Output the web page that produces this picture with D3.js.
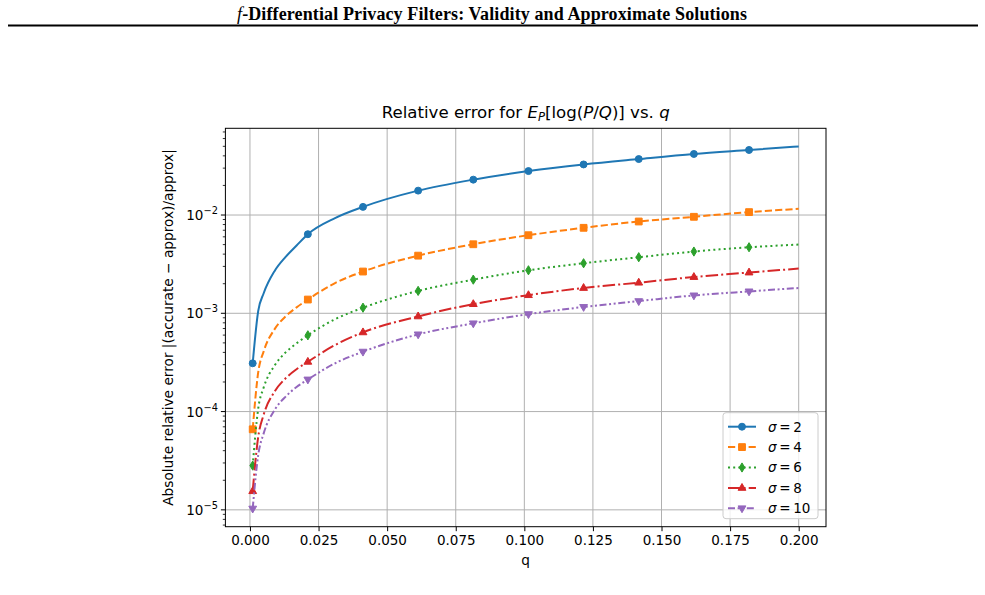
<!DOCTYPE html>
<html>
<head>
<meta charset="utf-8">
<script src="https://cdn.jsdelivr.net/npm/d3@7"></script>
<style>
  body { margin: 0; background: #fff; }
  svg { display: block; }
  .mpl { font-family: "DejaVu Sans", sans-serif; }
</style>
</head>
<body>
<svg id="chart" width="985" height="595"></svg>
<script>
// q samples, markers every 10th point of the original linspace
let qValues = [0.001, 0.003, 0.005, 0.009, 0.013, 0.017, 0.0211, 0.031, 0.0412, 0.0613, 0.0814, 0.1015, 0.1216, 0.1417, 0.1618, 0.1819, 0.2]
let markerIdx = [0, 6, 8, 9, 10, 11, 12, 13, 14, 15]

let sigma2  = [3.1e-4, 1.05e-3, 1.6e-3, 2.7e-3, 3.75e-3, 4.9e-3, 6.38e-3, 9.3e-3, 1.21e-2, 1.77e-2, 2.29e-2, 2.8e-2, 3.27e-2, 3.71e-2, 4.18e-2, 4.59e-2, 4.99e-2]
let sigma4  = [6.6e-5, 2.5e-4, 4.1e-4, 6.9e-4, 9.3e-4, 1.15e-3, 1.38e-3, 2.03e-3, 2.66e-3, 3.86e-3, 5.04e-3, 6.23e-3, 7.41e-3, 8.59e-3, 9.59e-3, 1.07e-2, 1.156e-2]
let sigma6  = [2.82e-5, 1.07e-4, 1.76e-4, 2.95e-4, 4.0e-4, 4.95e-4, 5.97e-4, 8.7e-4, 1.14e-3, 1.69e-3, 2.2e-3, 2.74e-3, 3.23e-3, 3.72e-3, 4.25e-3, 4.7e-3, 5.0e-3]
let sigma8  = [1.55e-5, 5.5e-5, 9.3e-5, 1.6e-4, 2.18e-4, 2.7e-4, 3.21e-4, 4.75e-4, 6.4e-4, 9.3e-4, 1.24e-3, 1.53e-3, 1.81e-3, 2.05e-3, 2.34e-3, 2.6e-3, 2.85e-3]
let sigma10 = [1.03e-5, 3.6e-5, 6.0e-5, 1.04e-4, 1.42e-4, 1.78e-4, 2.12e-4, 3.1e-4, 4.07e-4, 6.1e-4, 7.9e-4, 9.8e-4, 1.16e-3, 1.33e-3, 1.52e-3, 1.67e-3, 1.81e-3]

let sigmaLabels = ["2", "4", "6", "8", "10"]
let xTicks = [0, 0.025, 0.05, 0.075, 0.1, 0.125, 0.15, 0.175, 0.2]
let yTickExps = [-5, -4, -3, -2]

let series = [
    {label: sigmaLabels[0], values: sigma2,  color: "#1f77b4", dash: null,                     marker: "circle"},
    {label: sigmaLabels[1], values: sigma4,  color: "#ff7f0e", dash: "7.2,3.1",                marker: "square"},
    {label: sigmaLabels[2], values: sigma6,  color: "#2ca02c", dash: "2,3.2",                  marker: "thin_diamond"},
    {label: sigmaLabels[3], values: sigma8,  color: "#d62728", dash: "12.5,3.1,2,3.1",         marker: "tri_up"},
    {label: sigmaLabels[4], values: sigma10, color: "#9467bd", dash: "7,2.6,2,2.6,2,2.6",      marker: "tri_down"},
]

let axLeft = 225.4, axRight = 826, axTop = 128.3, axBottom = 526.7
let svg = d3.select("#chart")

// page header (paper running title)
let header = svg.append("text")
    .attr("x", 492).attr("y", 19.5)
    .attr("text-anchor", "middle")
    .attr("font-family", "Liberation Serif, serif")
    .attr("font-weight", "bold")
    .attr("font-size", 18)
    .attr("textLength", 510)
header.append("tspan").attr("font-style", "italic").attr("font-weight", "normal").text("f")
header.append("tspan").text("-Differential Privacy Filters: Validity and Approximate Solutions")
svg.append("line")
    .attr("x1", 8).attr("x2", 978).attr("y1", 25.5).attr("y2", 25.5)
    .attr("stroke", "#000").attr("stroke-width", 2)

// scales, with matplotlib-like 5% margins
let xExt = d3.extent(qValues), xPad = (xExt[1] - xExt[0]) * 0.05
let allVals = series.flatMap(s => s.values)
let lo = Math.log10(d3.min(allVals)), hi = Math.log10(d3.max(allVals)), lPad = (hi - lo) * 0.05
let x = d3.scaleLinear([xExt[0] - xPad, xExt[1] + xPad], [axLeft, axRight])
let y = d3.scaleLog([Math.pow(10, lo - lPad), Math.pow(10, hi + lPad)], [axBottom, axTop])

let g = svg.append("g").attr("class", "mpl")

// grid
g.append("g").selectAll("line").data(xTicks).join("line")
    .attr("x1", d => x(d)).attr("x2", d => x(d))
    .attr("y1", axTop).attr("y2", axBottom)
    .attr("stroke", "#b0b0b0").attr("stroke-width", 1)
g.append("g").selectAll("line").data(yTickExps).join("line")
    .attr("x1", axLeft).attr("x2", axRight)
    .attr("y1", d => y(Math.pow(10, d))).attr("y2", d => y(Math.pow(10, d)))
    .attr("stroke", "#b0b0b0").attr("stroke-width", 1)

// x axis
let xAxis = g.append("g")
    .attr("transform", `translate(0, ${axBottom})`)
    .call(d3.axisBottom(x).tickValues(xTicks).tickFormat(d3.format(".3f")).tickSizeInner(4.5).tickSizeOuter(0))
xAxis.select(".domain").remove()
xAxis.selectAll("line").attr("stroke", "#000").attr("stroke-width", 1)
xAxis.selectAll("text").attr("font-family", "DejaVu Sans").attr("font-size", 13.5)
    .attr("fill", "#000").attr("y", 8.5).attr("dy", "0.71em")

// y axis (log) - majors with superscript labels, then minors
let minorVals = []
d3.range(-6, 0).forEach(e => d3.range(2, 10).forEach(k => {
    let v = k * Math.pow(10, e)
    if (v >= y.domain()[0] && v <= y.domain()[1]) minorVals.push(v)
}))
let yAxis = g.append("g").attr("transform", `translate(${axLeft}, 0)`)
yAxis.selectAll("line.minor").data(minorVals).join("line").attr("class", "minor")
    .attr("x1", -2.6).attr("x2", 0).attr("y1", d => y(d)).attr("y2", d => y(d))
    .attr("stroke", "#000").attr("stroke-width", 0.8)
yAxis.selectAll("line.major").data(yTickExps).join("line").attr("class", "major")
    .attr("x1", -4.5).attr("x2", 0).attr("y1", d => y(Math.pow(10, d))).attr("y2", d => y(Math.pow(10, d)))
    .attr("stroke", "#000").attr("stroke-width", 1)
let yLab = yAxis.selectAll("text.tick").data(yTickExps).join("text").attr("class", "tick")
    .attr("x", -7.5).attr("y", d => y(Math.pow(10, d)) + 5)
    .attr("text-anchor", "end").attr("font-size", 13.5).attr("fill", "#000")
yLab.append("tspan").text("10")
yLab.append("tspan").attr("dy", -6).attr("font-size", 9.8).text(d => "\u2212" + Math.abs(d))

// spines
g.append("rect")
    .attr("x", axLeft).attr("y", axTop)
    .attr("width", axRight - axLeft).attr("height", axBottom - axTop)
    .attr("fill", "none").attr("stroke", "#000").attr("stroke-width", 1)

// markers
function markerPath(type) {
    if (type === "circle") return d3.symbol(d3.symbolCircle, 38)()
    if (type === "square") return "M-3.4,-3.4H3.4V3.4H-3.4Z"
    if (type === "thin_diamond") return "M0,-4.6L2.8,0L0,4.6L-2.8,0Z"
    if (type === "tri_up") return "M0,-4.4L3.9,2.4L-3.9,2.4Z"
    return "M0,4.4L3.9,-2.4L-3.9,-2.4Z"
}

let line = d3.line().x(d => x(d[0])).y(d => y(d[1])).curve(d3.curveMonotoneX)
let plot = g.append("g")
series.forEach(s => {
    let pts = qValues.map((q, i) => [q, s.values[i]])
    plot.append("path")
        .attr("d", line(pts))
        .attr("fill", "none")
        .attr("stroke", s.color)
        .attr("stroke-width", 2)
        .attr("stroke-dasharray", s.dash)
    plot.append("g").selectAll("path")
        .data(markerIdx.map(i => pts[i]))
        .join("path")
        .attr("transform", d => `translate(${x(d[0])}, ${y(d[1])})`)
        .attr("d", markerPath(s.marker))
        .attr("fill", s.color)
        .attr("stroke", s.color)
        .attr("stroke-width", 1)
})

// titles
let title = g.append("text")
    .attr("x", (axLeft + axRight) / 2).attr("y", 118)
    .attr("text-anchor", "middle").attr("font-size", 16.6).attr("fill", "#000")
title.append("tspan").text("Relative error for ")
title.append("tspan").attr("font-style", "italic").text("E")
title.append("tspan").attr("font-style", "italic").attr("font-size", 11.6).attr("dy", 2.7).text("P")
title.append("tspan").attr("dy", -2.7).text("[log(")
title.append("tspan").attr("font-style", "italic").text("P")
title.append("tspan").text("/")
title.append("tspan").attr("font-style", "italic").text("Q")
title.append("tspan").text(")] vs. ")
title.append("tspan").attr("font-style", "italic").text("q")

g.append("text")
    .attr("x", (axLeft + axRight) / 2).attr("y", 565)
    .attr("text-anchor", "middle").attr("font-size", 13.7).text("q")
g.append("text")
    .attr("transform", `translate(173, ${(axTop + axBottom) / 2}) rotate(-90)`)
    .attr("text-anchor", "middle").attr("font-size", 13.7)
    .text("Absolute relative error |(accurate \u2212 approx)/approx|")

// legend
let legW = 95, legH = 106, rowH = 20.4
let leg = g.append("g").attr("transform", `translate(${axRight - 8 - legW}, ${axBottom - 8 - legH})`)
leg.append("rect")
    .attr("width", legW).attr("height", legH).attr("rx", 3)
    .attr("fill", "#fff").attr("fill-opacity", 0.8)
    .attr("stroke", "#cccccc").attr("stroke-width", 1)
let rows = leg.selectAll("g.row").data(series).join("g").attr("class", "row")
    .attr("transform", (d, i) => `translate(0, ${14 + i * rowH})`)
rows.append("line")
    .attr("x1", 5).attr("x2", 33)
    .attr("stroke", d => d.color).attr("stroke-width", 2)
    .attr("stroke-dasharray", d => d.dash)
rows.append("path")
    .attr("transform", "translate(19, 0)")
    .attr("d", d => markerPath(d.marker))
    .attr("fill", d => d.color).attr("stroke", d => d.color)
let lt = rows.append("text").attr("x", 45).attr("y", 4.9).attr("font-size", 13.5).attr("fill", "#000")
lt.append("tspan").attr("font-style", "italic").text("\u03c3")
lt.append("tspan").text(d => "\u2009=\u2009" + d.label)
</script>
</body>
</html>
